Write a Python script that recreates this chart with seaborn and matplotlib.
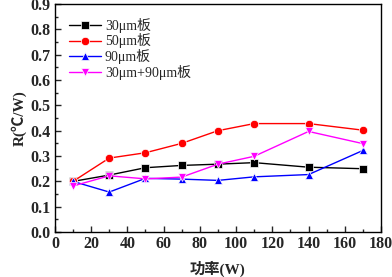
import matplotlib
matplotlib.use("Agg")
import matplotlib.pyplot as plt
from matplotlib.ticker import MultipleLocator
import seaborn as sns
import pandas as pd

power = [10, 30, 50, 70, 90, 110, 140, 170]
r_30 = [0.20, 0.225, 0.254, 0.263, 0.268, 0.274, 0.256, 0.25]
r_50 = [0.20, 0.292, 0.313, 0.35, 0.40, 0.428, 0.428, 0.402]
r_90 = [0.20, 0.158, 0.212, 0.209, 0.204, 0.218, 0.227, 0.322]
r_30_90 = [0.182, 0.222, 0.21, 0.217, 0.268, 0.299, 0.397, 0.349]
labels = ["30μm板", "50μm板", "90μm板", "30μm+90μm板"]
colors = ["black", "#ff0000", "#0000ff", "#ff00ff"]
marks = ["s", "o", "^", "v"]

df = pd.DataFrame({
    "power": power * 4,
    "R": r_30 + r_50 + r_90 + r_30_90,
    "board": [lab for lab in labels for _ in power],
})

sns.set_theme(style="ticks")
plt.rcParams["font.family"] = ["Liberation Serif", "Noto Sans CJK SC"]
plt.rcParams["xtick.direction"] = "in"
plt.rcParams["ytick.direction"] = "in"

fig = plt.figure(figsize=(3.92, 2.77), dpi=100)
ax = fig.add_axes([0.140, 0.162, 0.832, 0.824])

sns.lineplot(data=df, x="power", y="R", hue="board", style="board",
             palette=dict(zip(labels, colors)), markers=dict(zip(labels, marks)),
             dashes=False, markersize=6, linewidth=1.0, markeredgewidth=0.5,
             ax=ax)

ax.set_xlim(0, 180)
ax.set_ylim(0, 0.9)
ax.xaxis.set_major_locator(MultipleLocator(20))
ax.xaxis.set_minor_locator(MultipleLocator(10))
ax.yaxis.set_major_locator(MultipleLocator(0.1))
ax.yaxis.set_minor_locator(MultipleLocator(0.05))
ax.tick_params(which="major", length=4, width=1, labelsize=11.5, pad=3)
ax.tick_params(which="minor", length=2, width=1)
for lab in ax.get_xticklabels() + ax.get_yticklabels():
    lab.set_fontweight("bold")
for sp in ax.spines.values():
    sp.set_linewidth(1.0)
    sp.set_color("black")

ax.set_xlabel("功率(W)", fontsize=11, fontweight="bold", labelpad=6)
ax.set_ylabel("R(℃/W)", fontsize=11, fontweight="bold", labelpad=3)

leg = ax.legend(loc="upper left", frameon=False, fontsize=10,
                handlelength=2.3, handletextpad=0.3,
                labelspacing=0.05, borderaxespad=0.6)

fig.savefig("out.png", dpi=100)
